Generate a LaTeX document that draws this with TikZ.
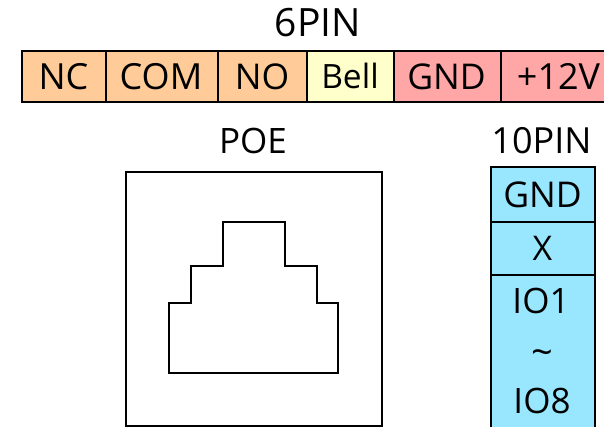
\documentclass[tikz,border=0pt]{standalone}
\usepackage{fontspec}
\setmainfont{Open Sans}
\definecolor{orangec}{HTML}{FFCC99}
\definecolor{yellowc}{HTML}{FFFFCC}
\definecolor{pinkc}{HTML}{FFA6A6}
\definecolor{bluec}{HTML}{99E6FF}
\tikzset{
  lab/.style={font=\fontsize{#1}{40}\selectfont, inner sep=0pt, text=black},
  cell/.style={draw=black, line width=2pt, fill=#1},
  outline/.style={draw=black, line width=2pt, line join=miter}
}
\begin{document}
\begin{tikzpicture}[x=1pt,y=-1pt]
\useasboundingbox (0,0) rectangle (604,427);
\clip (0,0) rectangle (604,427);
% top row
\draw[cell=orangec] (22,51) rectangle (106,102);
\draw[cell=orangec] (106,51) rectangle (218,102);
\draw[cell=orangec] (218,51) rectangle (307,102);
\draw[cell=yellowc] (307,51) rectangle (394,102);
\draw[cell=pinkc] (394,51) rectangle (501,102);
\draw[cell=pinkc] (501,51) rectangle (612,102);
\node[lab=36] (nc) at (63.5,76.5) {NC};
\node[lab=36] (com) at (161,76.5) {COM};
\node[lab=35.5] (no) at (262,76.5) {NO};
\node[lab=33.5] (bell) at (350,76) {Bell};
\node[lab=35.5] (gnd) at (446.5,76.5) {GND};
\node[lab=36] (v12) at (558.5,76.5) {+12V};
\node[lab=39] (six) at (318,22.5) {6PIN};
\node[lab=35] (poe) at (253,141) {POE};
\node[lab=36] (ten) at (541.5,141) {10PIN};
% POE jack
\draw[outline] (126,172) rectangle (382,426);
\draw[outline] (168.5,373) -- (168.5,303) -- (190.5,303) -- (190.5,266.5) -- (222.5,266.5) -- (222.5,222) -- (285,222) -- (285,266.5) -- (317,266.5) -- (317,303) -- (338,303) -- (338,373) -- cycle;
% 10PIN column
\draw[cell=bluec] (490.5,167.5) rectangle (595,222);
\draw[cell=bluec] (490.5,222) rectangle (595,275);
\draw[cell=bluec] (490.5,275) rectangle (595,440);
\node[lab=35.5] (g2) at (542.5,195) {GND};
\node[lab=34] (x) at (542.5,248) {X};
\node[lab=35] (io1) at (541,301) {IO1};
\node[lab=38] (tl) at (542,358) {\char"007E};
\node[lab=35] (io8) at (542,400.5) {IO8};
\end{tikzpicture}
\end{document}
